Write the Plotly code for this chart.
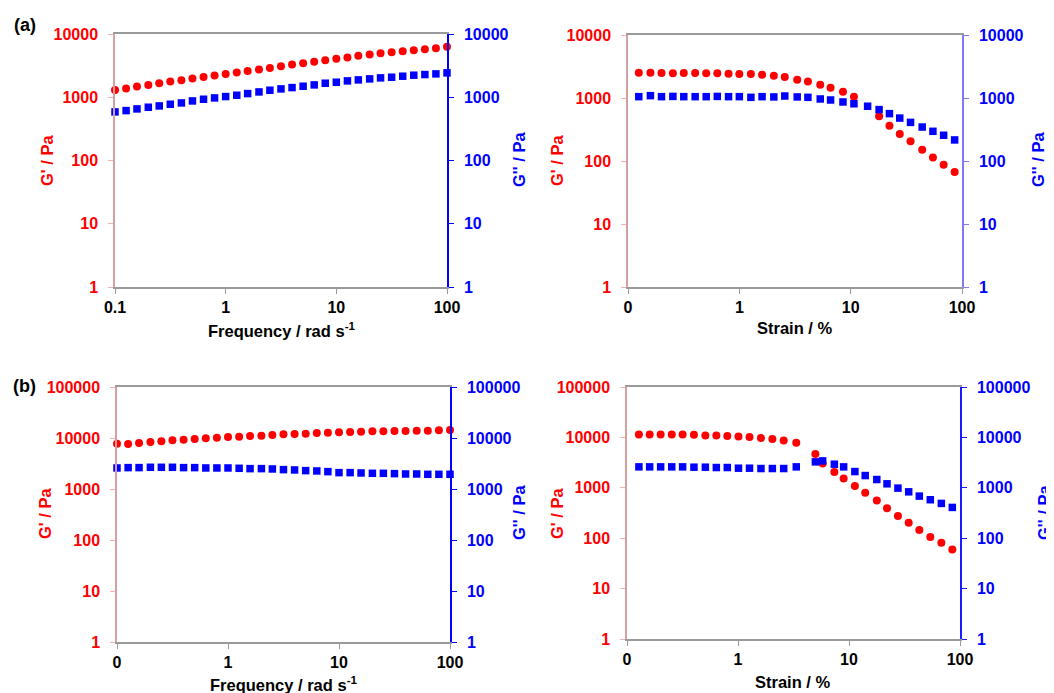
import plotly.graph_objects as go

# ---------------- data ----------------
freq = [0.1, 0.126, 0.158, 0.2, 0.251, 0.316, 0.398, 0.501, 0.631, 0.794,
        1.0, 1.26, 1.58, 2.0, 2.51, 3.16, 3.98, 5.01, 6.31, 7.94,
        10.0, 12.6, 15.8, 20.0, 25.1, 31.6, 39.8, 50.1, 63.1, 79.4, 100.0]

a_freq_gp = [1306, 1371, 1475, 1568, 1666, 1770, 1858, 1975, 2099, 2203,
             2341, 2458, 2612, 2742, 2913, 3096, 3290, 3454, 3626, 3853,
             4045, 4246, 4512, 4737, 4973, 5158, 5349, 5548, 5753, 5967, 6263]
a_freq_gpp = [586, 615, 654, 695, 729, 775, 813, 875, 930, 976,
              1025, 1076, 1143, 1214, 1291, 1355, 1422, 1493, 1568, 1666,
              1728, 1814, 1881, 1951, 2024, 2073, 2150, 2230, 2285, 2341, 2428]

a_strain = [0.125, 0.159, 0.2, 0.253, 0.317, 0.401, 0.504, 0.634, 0.80, 1.0,
            1.27, 1.6, 2.04, 2.56, 3.31, 4.13, 5.33, 6.6, 8.53, 10.7,
            14.2, 18.0, 22.3, 27.6, 34.5, 43.9, 54.8, 68.4, 85.9]
a_strain_gp = [2520, 2520, 2500, 2480, 2490, 2490, 2470, 2460, 2430, 2400,
               2400, 2340, 2260, 2150, 1950, 1820, 1630, 1460, 1260, 1050,
               None, 512, 364, 268, 205, 151, 114, 87, 67]
a_strain_gpp = [1050, 1090, 1050, 1060, 1050, 1050, 1050, 1060, 1050, 1050,
                1025, 1050, 1040, 1075, 1040, 1025, 965, 930, 865, 810,
                740, 655, 565, 480, 410, 346, 296, 256, 216]

b_freq_gp = [7738, 7622, 7977, 8346, 8604, 9000, 9275, 9558, 9850, 10150,
             10460, 10620, 10950, 11110, 11450, 11800, 11980, 12160, 12540, 12730,
             12920, 13120, 13320, 13520, 13520, 13730, 13730, 13940, 13940, 14150, 14360]
b_freq_gpp = [2586, 2625, 2625, 2665, 2665, 2665, 2625, 2625, 2586, 2586,
              2586, 2547, 2509, 2509, 2471, 2398, 2362, 2292, 2258, 2190,
              2094, 2094, 2062, 2032, 2032, 2001, 1971, 1971, 1942, 1942, 1942]

b_strain = [0.128, 0.16, 0.201, 0.253, 0.317, 0.401, 0.508, 0.638, 0.801, 1.01,
            1.27, 1.61, 2.04, 2.58, 3.35, 4.98, 5.79, 7.38, 8.95, 11.3,
            14.0, 17.8, 22.0, 27.6, 34.5, 43.0, 54.0, 67.9, 85.3]
b_strain_gp = [11460, 11460, 11460, 11460, 11460, 11290, 10960, 10960, 10630, 10470,
               10150, 9700, 9270, 8720, 7840, 4700, 3025, 2070, 1530, 1080,
               796, 562, 392, 276, 203, 146, 106, 81, 60]
b_strain_gpp = [2602, 2602, 2602, 2602, 2602, 2563, 2563, 2524, 2524, 2448,
                2448, 2412, 2412, 2412, 2602, 3270, 3420, 2940, 2602, 2100,
                1750, 1460, 1200, 985, 832, 684, 580, 490, 408]

x_tickvals = [0.1, 1, 10, 100]
x_ticktext_a = ["0.1", "1", "10", "100"]
x_ticktext_b = ["0", "1", "10", "100"]
y_tickvals_4 = [1, 10, 100, 1000, 10000]
y_tickvals_5 = [1, 10, 100, 1000, 10000, 100000]

# ---------------- style ----------------
# the page body has an 8px margin, so the figure is drawn 8px smaller and
# every target pixel position is shifted by that offset
OFF = 8
W, H = 1054 - OFF, 693 - OFF
FONT = "Liberation Sans, Arial, sans-serif"
RED = "#ff0000"
BLUE = "#0000ff"


def px(x):
    return (x - OFF) / W


def py(y):
    return 1 - (y - OFF) / H


def xd(a, b):
    return [px(a), px(b)]


def yd(top, bottom):
    return [py(bottom), py(top)]


fig = go.Figure()
layout = dict(
    width=W, height=H, margin=dict(l=0, r=0, t=0, b=0, pad=0, autoexpand=False),
    paper_bgcolor="white", plot_bgcolor="white", showlegend=False,
)
annotations = []

panels = [
    dict(x=freq, gp=a_freq_gp, gpp=a_freq_gpp, xpx=(115, 447), ypx=(34, 287), ymax=4,
         xtt=x_ticktext_a, rcol="#0000ff", xtitle="Frequency / rad s<sup>-1</sup>",
         xt=(281, 330), lt=(47, 160), rt=(519, 160)),
    dict(x=a_strain, gp=a_strain_gp, gpp=a_strain_gpp, xpx=(628, 962), ypx=(35, 287), ymax=4,
         xtt=x_ticktext_b, rcol="#7b7bf2", xtitle="Strain / %",
         xt=(795, 328), lt=(557, 160), rt=(1038, 160)),
    dict(x=freq, gp=b_freq_gp, gpp=b_freq_gpp, xpx=(117, 450), ypx=(387, 642), ymax=5,
         xtt=x_ticktext_b, rcol="#0000ff", xtitle="Frequency / rad s<sup>-1</sup>",
         xt=(283, 684), lt=(45, 513), rt=(519, 513)),
    dict(x=b_strain, gp=b_strain_gp, gpp=b_strain_gpp, xpx=(627, 960), ypx=(387, 639), ymax=5,
         xtt=x_ticktext_b, rcol="#1a1aff", xtitle="Strain / %",
         xt=(793, 682), lt=(557, 513), rt=(1044, 513)),
]

for i, p in enumerate(panels):
    xn = "x" if i == 0 else f"x{i + 1}"
    yl_n = f"y{2 * i + 1}" if i > 0 else "y"
    yr_n = f"y{2 * i + 2}"
    xkey = "xaxis" if i == 0 else f"xaxis{i + 1}"
    ylkey = "yaxis" if i == 0 else f"yaxis{2 * i + 1}"
    yrkey = f"yaxis{2 * i + 2}"

    fig.add_trace(go.Scatter(
        x=p["x"], y=p["gp"], mode="markers", xaxis=xn, yaxis=yl_n,
        marker=dict(symbol="circle", size=8, color=RED, line=dict(width=0)),
        cliponaxis=False, name="G'"))
    fig.add_trace(go.Scatter(
        x=p["x"], y=p["gpp"], mode="markers", xaxis=xn, yaxis=yr_n,
        marker=dict(symbol="square", size=7.5, color=BLUE, line=dict(width=0)),
        cliponaxis=False, name="G''"))

    yvals = y_tickvals_4 if p["ymax"] == 4 else y_tickvals_5
    ytext = [str(v) for v in yvals]

    layout[xkey] = dict(
        type="log", range=[-1, 2], domain=xd(*p["xpx"]), anchor=yl_n,
        showline=True, linecolor="#9a9a9a", linewidth=1.5, mirror=True,
        ticks="outside", ticklen=5, tickcolor="#9a9a9a", tickwidth=1,
        tickvals=x_tickvals, ticktext=p["xtt"], ticklabelstandoff=0,
        tickfont=dict(family=FONT, size=16, color="black", weight="bold"),
        showgrid=False, zeroline=False, fixedrange=True, automargin=False)
    layout[ylkey] = dict(
        type="log", range=[0, p["ymax"]], domain=yd(*p["ypx"]), anchor=xn,
        showline=True, linecolor="#d4a0a0", linewidth=1.5,
        ticks="outside", ticklen=5, tickcolor="#f2b0b0", tickwidth=1,
        tickvals=yvals, ticktext=ytext, ticklabelstandoff=7,
        tickfont=dict(family=FONT, size=16, color=RED, weight="bold"),
        showgrid=False, zeroline=False, fixedrange=True, automargin=False)
    layout[yrkey] = dict(
        type="log", range=[0, p["ymax"]], overlaying=yl_n, side="right", anchor=xn,
        showline=True, linecolor=p["rcol"], linewidth=1.5,
        ticks="outside", ticklen=5, tickcolor=p["rcol"], tickwidth=1,
        tickvals=yvals, ticktext=ytext, ticklabelstandoff=7,
        tickfont=dict(family=FONT, size=16, color=BLUE, weight="bold"),
        showgrid=False, zeroline=False, fixedrange=True, automargin=False)

    annotations.append(dict(
        text=p["xtitle"], x=px(p["xt"][0]), y=py(p["xt"][1]),
        xref="paper", yref="paper", showarrow=False, xanchor="center", yanchor="middle",
        font=dict(family=FONT, size=16.5, color="black", weight="bold")))
    annotations.append(dict(
        text="G' / Pa", x=px(p["lt"][0]), y=py(p["lt"][1]), textangle=-90,
        xref="paper", yref="paper", showarrow=False, xanchor="center", yanchor="middle",
        font=dict(family=FONT, size=16.5, color=RED, weight="bold")))
    annotations.append(dict(
        text="G'' / Pa", x=px(p["rt"][0]), y=py(p["rt"][1]), textangle=-90,
        xref="paper", yref="paper", showarrow=False, xanchor="center", yanchor="middle",
        font=dict(family=FONT, size=16.5, color=BLUE, weight="bold")))

annotations.append(dict(text="(a)", x=px(25), y=py(25), xref="paper", yref="paper",
                        showarrow=False, xanchor="center", yanchor="middle",
                        font=dict(family=FONT, size=18, color="black", weight="bold")))
annotations.append(dict(text="(b)", x=px(24), y=py(386), xref="paper", yref="paper",
                        showarrow=False, xanchor="center", yanchor="middle",
                        font=dict(family=FONT, size=18, color="black", weight="bold")))

layout["annotations"] = annotations
fig.update_layout(**layout)
fig.write_html("out.html")
